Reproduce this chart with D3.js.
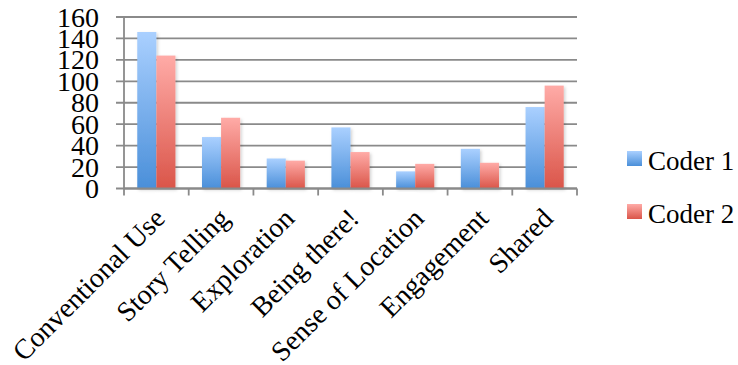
<!DOCTYPE html>
<html>
<head>
<meta charset="utf-8">
<script src="https://cdn.jsdelivr.net/npm/d3@7"></script>
<style>
  body { margin: 0; background: #fff; }
  text { font-family: "Liberation Serif", "Times New Roman", serif; fill: #000; }
</style>
</head>
<body>
<svg width="738" height="365"></svg>
<script>
var categories = ["Conventional Use", "Story Telling", "Exploration", "Being there!", "Sense of Location", "Engagement", "Shared"];
var seriesNames = ["Coder 1", "Coder 2"];
var coder1 = [146, 48, 28, 57, 16, 37, 76];
var coder2 = [124, 66, 26, 34, 23, 24, 96];
var yTicks = [0, 20, 40, 60, 80, 100, 120, 140, 160];

var data = categories.map(function(c, i) {
  return {cat: c, values: [coder1[i], coder2[i]]};
});

var svg = d3.select("svg");
var plotLeft = 124, plotRight = 577, plotTop = 17, plotBottom = 188.5;

var defs = svg.append("defs");
var grads = [
  {id: "g0", top: "#aad0ff", bot: "#4a8fd9"},
  {id: "g1", top: "#ffaba7", bot: "#da5549"}
];
grads.forEach(function(g) {
  var lg = defs.append("linearGradient").attr("id", g.id)
      .attr("x1", 0).attr("y1", 0).attr("x2", 0).attr("y2", 1);
  lg.append("stop").attr("offset", "0%").attr("stop-color", g.top);
  lg.append("stop").attr("offset", "100%").attr("stop-color", g.bot);
});
var f = defs.append("filter").attr("id", "shadow")
    .attr("x", "-20%").attr("y", "-10%").attr("width", "150%").attr("height", "130%");
f.append("feDropShadow").attr("dx", 1.5).attr("dy", 1.5).attr("stdDeviation", 1.5)
    .attr("flood-color", "#000").attr("flood-opacity", 0.18);

var x0 = d3.scaleBand().domain(categories).range([plotLeft, plotRight])
    .paddingInner(0.41).paddingOuter(0.205);
var x1 = d3.scaleBand().domain([0, 1]).range([0, x0.bandwidth()]);
var y = d3.scaleLinear().domain([0, 160]).range([plotBottom, plotTop]);

// gridlines + left tick marks
svg.append("g").selectAll("line").data(yTicks).enter().append("line")
    .attr("x1", plotLeft - 8).attr("x2", plotRight)
    .attr("y1", function(d) { return y(d); }).attr("y2", function(d) { return y(d); })
    .attr("stroke", "#8a8a8a").attr("stroke-width", 1.8);

// y axis line
svg.append("line").attr("x1", plotLeft).attr("x2", plotLeft).attr("y1", plotTop).attr("y2", plotBottom)
    .attr("stroke", "#8a8a8a").attr("stroke-width", 1.8);

// y tick labels
svg.append("g").selectAll("text").data(yTicks).enter().append("text")
    .attr("x", 99).attr("y", function(d) { return y(d) + 9.5; })
    .attr("text-anchor", "end").style("font-size", "28px")
    .text(function(d) { return d; });

// bars
var groups = svg.append("g").selectAll("g").data(data).enter().append("g")
    .attr("transform", function(d) { return "translate(" + x0(d.cat) + ",0)"; });
groups.selectAll("rect").data(function(d) { return d.values; }).enter().append("rect")
    .attr("x", function(d, i) { return x1(i); })
    .attr("width", x1.bandwidth())
    .attr("y", function(d) { return y(d); })
    .attr("height", function(d) { return y(0) - y(d); })
    .attr("fill", function(d, i) { return "url(#g" + i + ")"; })
    .attr("filter", "url(#shadow)");

// x axis line and category boundary ticks
var step = x0.step();
svg.append("line").attr("x1", plotLeft).attr("x2", plotRight).attr("y1", plotBottom).attr("y2", plotBottom)
    .attr("stroke", "#8a8a8a").attr("stroke-width", 1.8);
svg.append("g").selectAll("line").data(d3.range(categories.length + 1)).enter().append("line")
    .attr("x1", function(i) { return plotLeft + i * step; })
    .attr("x2", function(i) { return plotLeft + i * step; })
    .attr("y1", plotBottom).attr("y2", plotBottom + 7)
    .attr("stroke", "#8a8a8a").attr("stroke-width", 1.8);

// x labels, rotated
svg.append("g").selectAll("text").data(categories).enter().append("text")
    .attr("transform", function(d) {
      var cx = x0(d) + x0.bandwidth() / 2;
      return "translate(" + (cx - 4) + ",206) rotate(-45)";
    })
    .attr("dy", "0.71em")
    .attr("text-anchor", "end").style("font-size", "28px")
    .text(function(d) { return d; });

// legend
var legend = svg.append("g").selectAll("g").data(seriesNames).enter().append("g")
    .attr("transform", function(d, i) { return "translate(627," + (151 + i * 53) + ")"; });
legend.append("rect").attr("width", 15).attr("height", 15)
    .attr("fill", function(d, i) { return "url(#g" + i + ")"; });
legend.append("text").attr("x", 21).attr("y", 18.5)
    .style("font-size", "27px").text(function(d) { return d; });
</script>
</body>
</html>
